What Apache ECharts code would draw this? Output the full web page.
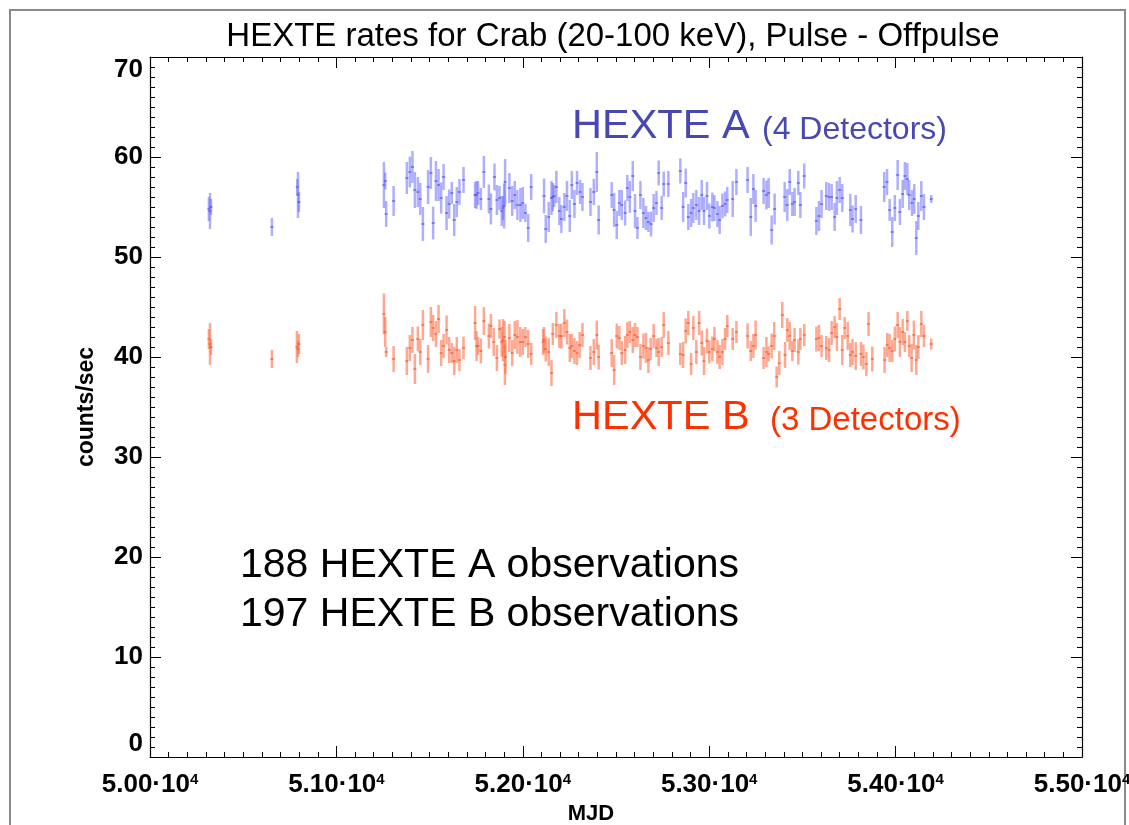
<!DOCTYPE html>
<html>
<head>
<meta charset="utf-8">
<title>HEXTE rates for Crab</title>
<script src="https://cdn.jsdelivr.net/npm/echarts@6/dist/echarts.min.js"></script>
<style>
    html, body { margin: 0; padding: 0; background: #fff; }
    #main { width: 1129px; height: 825px; }
</style>
</head>
<body>
<div id="main"></div>
<script>
// HEXTE A (4 detectors): MJD, rate, 1-sigma error
var aMjd = [50316, 50322, 50327, 50654, 50790, 50794, 50799,
    51255, 51262, 51267, 51307, 51378, 51394, 51408, 51421, 51437, 51450, 51464, 51492, 51507, 51519, 51534, 51548,
    51562, 51575, 51591, 51605, 51619, 51632, 51646, 51660, 51682, 51744, 51752, 51760, 51775, 51791, 51818, 51829,
    51848, 51861, 51875, 51887, 51894, 51900, 51905, 51928, 51943, 51957, 51971, 51987, 52000, 52014, 52029, 52045,
    52114, 52123, 52139, 52154, 52161, 52168, 52180, 52196, 52207, 52223, 52237, 52252, 52263, 52277, 52291, 52307,
    52320, 52363, 52381, 52397, 52407, 52477, 52490, 52504, 52518, 52531, 52549, 52561, 52574, 52590, 52602, 52615,
    52631, 52647, 52661, 52674, 52688, 52702, 52717, 52729,
    52745, 52756, 52781, 52845, 52860, 52874, 52888, 52903, 52915, 52931, 52946, 52960, 52972, 52988, 53001, 53017,
    53028, 53044, 53056, 53071, 53085, 53097, 53126, 53146, 53206, 53223, 53237, 53249, 53292, 53307, 53319, 53335,
    53351, 53405, 53419, 53432, 53446, 53458, 53478, 53489, 53510, 53575, 53589, 53603, 53628, 53643, 53657, 53673,
    53685, 53700, 53714, 53757, 53769, 53786, 53814, 53939, 53954, 53968, 53982, 53996, 54011, 54023, 54038, 54050,
    54063, 54073, 54088, 54100, 54111, 54122, 54138, 54152, 54191];
var aRate = [54.8, 54.6, 55.0, 53.0, 57.0, 56.2, 55.5,
    57.2, 57.6, 54.3, 55.6, 57.9, 58.5, 59.0, 56.7, 56.5, 55.8, 53.3, 57.0, 58.4, 53.4, 57.6, 57.2,
    55.9, 58.0, 54.4, 55.3, 56.4, 53.7, 55.5, 56.5, 57.7, 56.2, 56.2, 56.4, 55.8, 58.5, 55.8, 54.8,
    58.0, 55.7, 55.9, 54.6, 54.9, 55.1, 57.5, 56.9, 55.6, 56.2, 55.2, 55.2, 55.4, 54.4, 52.9, 57.0,
    56.1, 52.8, 54.0, 55.9, 56.0, 56.1, 57.0, 54.6, 53.8, 55.0, 56.1, 54.1, 57.2, 55.3, 57.4, 56.5,
    56.0, 55.5, 56.5, 58.5, 53.7, 56.2, 54.7, 53.2, 55.4, 55.2, 54.4, 56.9, 56.0, 58.1, 54.6, 52.9,
    56.2, 54.4, 53.9, 53.5, 53.3, 54.9, 55.4, 58.4,
    54.9, 57.3, 57.3, 58.6, 55.0, 57.4, 54.0, 54.4, 54.9, 55.2, 54.6, 56.2, 54.6, 56.1, 54.1, 55.0,
    54.9, 54.3, 53.7, 55.1, 55.3, 55.7, 55.8, 57.5, 57.7, 54.0, 56.8, 55.1, 56.6, 56.2, 56.4, 52.7,
    54.8, 56.0, 55.2, 57.5, 55.3, 55.5, 57.4, 55.2, 58.1, 53.6, 54.1, 55.3, 56.1, 56.0, 56.0, 54.0,
    55.9, 56.7, 55.9, 54.7, 53.8, 54.8, 53.7, 57.0, 57.5, 54.7, 52.5, 54.9, 58.2, 54.5, 56.3, 58.1,
    57.8, 56.2, 55.4, 55.8, 51.9, 54.1, 56.1, 55.0, 55.8];
var aErr = [1.2, 1.8, 0.8, 0.9, 0.8, 2.3, 1.0,
    2.3, 0.85, 1.3, 1.5, 1.6, 1.55, 1.6, 1.8, 1.5, 1.6, 1.7, 1.7, 1.6, 1.65, 2.0, 1.6,
    1.55, 1.3, 1.7, 1.45, 1.1, 1.6, 1.5, 1.3, 1.3, 1.3, 1.4, 1.2, 1.1, 1.6, 1.45, 1.55,
    1.35, 1.5, 1.2, 1.5, 1.2, 2.25, 2.3, 1.5, 1.5, 1.4, 1.5, 1.7, 1.6, 0.9, 1.4, 1.3,
    1.75, 1.4, 1.5, 1.7, 1.4, 1.1, 1.6, 1.4, 1.4, 1.4, 1.5, 1.6, 1.4, 1.4, 1.2, 1.2,
    1.4, 1.4, 1.3, 2.0, 1.45, 1.3, 1.7, 1.4, 1.3, 1.5, 1.25, 1.3, 1.6, 1.5, 1.7, 1.1,
    1.4, 1.5, 1.2, 1.0, 1.25, 1.4, 1.2, 1.25,
    1.2, 1.25, 1.3, 1.25, 1.5, 1.45, 1.3, 1.4, 1.5, 1.5, 1.4, 1.5, 1.4, 1.4, 1.25, 1.45,
    1.3, 1.3, 1.4, 1.25, 1.25, 1.3, 1.8, 1.3, 1.3, 1.9, 1.5, 1.6, 1.3, 1.45, 1.5, 1.45,
    1.55, 1.5, 1.6, 1.3, 1.2, 1.4, 1.2, 1.3, 1.25, 1.4, 1.5, 1.4, 1.4, 1.4, 1.3, 1.4,
    1.7, 1.3, 1.4, 1.6, 1.35, 1.4, 1.4, 1.5, 1.3, 1.1, 1.5, 1.3, 1.5, 1.3, 1.4, 1.4,
    1.6, 1.5, 1.3, 1.5, 1.7, 1.4, 1.5, 1.3, 0.4];

// HEXTE B (3 detectors)
var bMjd = [50316, 50322, 50327, 50654, 50788, 50794, 50799,
    51255, 51262, 51267, 51307, 51378, 51394, 51408, 51421, 51437, 51450, 51464, 51492, 51507, 51519, 51534, 51548,
    51562, 51575, 51591, 51605, 51619, 51632, 51646, 51660, 51682, 51744, 51752, 51760, 51775, 51791, 51818, 51829,
    51844, 51861, 51875, 51887, 51894, 51902, 51904, 51907, 51928, 51943, 51957, 51971, 51986, 52000, 52014, 52029,
    52045, 52109, 52114, 52123, 52139, 52154, 52161, 52180, 52196, 52207, 52223, 52237, 52252, 52263, 52277, 52291,
    52305, 52320, 52363, 52381, 52397, 52407, 52477, 52490, 52504, 52518, 52531, 52549, 52561, 52574, 52590, 52602,
    52615, 52631, 52647, 52661, 52674, 52686, 52702, 52717, 52729,
    52745, 52756, 52781, 52845, 52860, 52874, 52888, 52903, 52915, 52931, 52946, 52960, 52972, 52988, 53001, 53017,
    53028, 53044, 53056, 53071, 53085, 53097, 53126, 53146, 53206, 53223, 53237, 53249, 53292, 53307, 53319, 53335,
    53349, 53362, 53376, 53392, 53407, 53419, 53432, 53446, 53458, 53478, 53489, 53510, 53575, 53589, 53603, 53628,
    53643, 53657, 53673, 53685, 53700, 53714, 53727, 53743, 53757, 53769, 53786, 53814, 53827, 53843, 53855, 53875,
    53941, 53955, 53968, 53982, 53996, 54011, 54023, 54038, 54050, 54063, 54073, 54086, 54098, 54111, 54122, 54138,
    54152, 54191];
var bRate = [41.8, 41.3, 41.0, 39.8, 41.0, 40.8, 41.3,
    44.3, 42.5, 40.5, 39.8, 39.6, 40.9, 41.7, 38.8, 41.8, 40.5, 43.2, 39.8, 43.5, 42.9, 42.3, 43.8,
    40.4, 41.1, 42.7, 40.7, 40.4, 39.6, 40.7, 39.7, 40.9, 43.4, 41.1, 41.1, 40.6, 43.6, 42.1, 43.1,
    41.5, 39.9, 42.8, 41.5, 41.7, 42.0, 39.2, 40.0, 41.9, 40.4, 42.2, 42.0, 41.5, 41.5, 42.0, 41.3,
    40.3, 41.5, 41.7, 40.8, 40.5, 38.4, 42.3, 43.2, 42.1, 42.1, 43.4, 42.5, 40.9, 41.1, 40.6, 40.4,
    41.2, 42.2, 39.9, 40.5, 42.2, 40.0, 40.4, 38.7, 42.1, 41.9, 40.4, 40.7, 42.2, 42.5, 41.7, 42.2,
    42.0, 40.0, 41.1, 40.9, 39.7, 40.8, 42.1, 40.9, 40.5,
    41.0, 43.2, 41.4, 40.3, 40.2, 42.6, 43.4, 39.3, 42.9, 40.5, 43.4, 41.4, 39.6, 41.6, 40.5, 40.8,
    41.8, 40.5, 40.0, 40.5, 41.8, 43.1, 41.8, 42.5, 42.1, 40.6, 41.1, 42.2, 39.9, 40.5, 40.3, 41.1,
    42.1, 38.0, 39.4, 44.2, 40.2, 42.7, 42.1, 40.6, 41.7, 40.5, 41.8, 42.2, 41.8, 41.9, 41.1, 40.9,
    40.7, 42.4, 43.0, 42.0, 44.8, 40.7, 42.9, 42.1, 40.2, 40.5, 40.1, 40.3, 40.0, 39.3, 43.3, 39.8,
    39.7, 41.2, 40.9, 40.6, 41.8, 43.2, 41.5, 42.5, 41.5, 43.6, 41.1, 39.9, 42.2, 39.7, 41.0, 43.3,
    42.1, 41.3];
var bErr = [1.0, 2.1, 0.8, 0.9, 1.6, 0.8, 1.0,
    2.05, 1.5, 0.5, 1.3, 1.4, 1.3, 1.3, 1.5, 1.25, 1.3, 1.5, 1.4, 1.5, 1.3, 1.3, 1.4,
    1.3, 1.2, 1.45, 1.3, 1.0, 1.4, 1.3, 1.1, 1.15, 1.7, 1.5, 0.9, 1.25, 1.4, 1.25, 1.2,
    1.4, 1.3, 0.95, 1.5, 2.1, 1.6, 2.0, 1.7, 1.4, 1.3, 1.4, 1.7, 1.5, 1.3, 1.0, 1.4,
    1.1, 1.3, 1.3, 1.25, 1.4, 1.3, 1.1, 1.3, 1.2, 1.25, 1.4, 1.25, 1.4, 1.2, 1.3, 1.2,
    1.3, 1.2, 1.2, 1.3, 1.45, 1.25, 1.4, 1.5, 1.25, 1.2, 1.2, 1.4, 1.3, 1.1, 1.3, 1.2,
    1.0, 1.3, 1.25, 1.5, 1.3, 1.1, 1.2, 0.9, 1.4,
    1.0, 1.3, 1.2, 1.1, 1.3, 1.25, 1.2, 1.1, 1.2, 1.2, 1.2, 1.25, 1.4, 1.25, 1.15, 1.25,
    1.2, 1.2, 1.2, 1.3, 1.1, 1.1, 1.1, 1.1, 1.25, 1.0, 1.2, 1.45, 1.1, 1.5, 0.75, 1.25,
    1.4, 1.05, 1.2, 1.3, 1.3, 1.2, 1.4, 1.0, 1.2, 1.25, 1.1, 1.1, 1.25, 1.3, 1.1, 1.2,
    1.2, 1.2, 1.1, 1.4, 1.1, 1.5, 1.1, 1.4, 1.2, 1.3, 1.4, 1.2, 1.25, 1.2, 1.2, 1.25,
    1.3, 1.2, 1.4, 1.1, 1.25, 1.3, 1.5, 1.3, 1.0, 1.0, 1.1, 1.4, 1.45, 1.5, 1.2, 1.3,
    1.1, 0.55];

// axis ticks
var xTicks = [50000, 51000, 52000, 53000, 54000, 55000];
var yTicks = [0, 10, 20, 30, 40, 50, 60, 70];

var FONT = '"Liberation Sans", Arial, Helvetica, sans-serif';

function toRows(mjd, rate, err) {
    return mjd.map(function (m, i) {
        return [m, rate[i], err[i]];
    });
}

// vertical error bar with a small mark at the measured value
function errBar(barColor, midColor) {
    return function (params, api) {
        var x = api.value(0), v = api.value(1), e = api.value(2);
        var top = api.coord([x, v + e]);
        var bot = api.coord([x, v - e]);
        var mid = api.coord([x, v]);
        return {
            type: 'group',
            children: [{
                type: 'line',
                shape: {x1: top[0], y1: top[1], x2: bot[0], y2: bot[1]},
                style: {stroke: barColor, lineWidth: 2.5}
            }, {
                type: 'line',
                shape: {x1: mid[0] - 1.5, y1: mid[1], x2: mid[0] + 1.5, y2: mid[1]},
                style: {stroke: midColor, lineWidth: 1}
            }]
        };
    };
}

function makeXAxis(pos, showLabel) {
    return {
        type: 'value',
        position: pos,
        min: xTicks[0],
        max: xTicks[xTicks.length - 1],
        interval: xTicks[1] - xTicks[0],
        axisLine: {show: true, onZero: false, lineStyle: {color: '#000', width: 1.2}},
        axisTick: {inside: true, length: 11, lineStyle: {color: '#000', width: 1}},
        minorTick: {show: true, splitNumber: 10, length: 5, lineStyle: {color: '#000', width: 1}},
        splitLine: {show: false},
        axisLabel: {
            show: showLabel,
            margin: 15,
            formatter: function (v) {
                return '{m|' + (v / 10000).toFixed(2) + '·10}{e|4}';
            },
            rich: {
                m: {fontFamily: FONT, fontSize: 26, fontWeight: 'bold', color: '#000'},
                e: {fontFamily: FONT, fontSize: 15, fontWeight: 'bold', color: '#000', verticalAlign: 'top'}
            }
        },
        name: showLabel ? 'MJD' : '',
        nameLocation: 'middle',
        nameGap: 46,
        nameTextStyle: {fontFamily: FONT, fontSize: 22, fontWeight: 'bold', color: '#000', padding: [0, 50, 0, 0]}
    };
}

function makeYAxis(pos, showLabel) {
    return {
        type: 'value',
        position: pos,
        min: yTicks[0],
        max: yTicks[yTicks.length - 1],
        interval: yTicks[1] - yTicks[0],
        axisLine: {show: true, onZero: false, lineStyle: {color: '#000', width: 1.2}},
        axisTick: {inside: true, length: 11, lineStyle: {color: '#000', width: 1}},
        minorTick: {show: true, splitNumber: 10, length: 5, lineStyle: {color: '#000', width: 1}},
        splitLine: {show: false},
        axisLabel: {
            show: showLabel,
            margin: 7,
            fontFamily: FONT,
            fontSize: 26,
            fontWeight: 'bold',
            color: '#000',
            verticalAlignMinLabel: 'bottom',
            verticalAlignMaxLabel: 'top'
        },
        name: showLabel ? 'counts/sec' : '',
        nameLocation: 'middle',
        nameGap: 52,
        nameRotate: 90,
        nameTextStyle: {fontFamily: FONT, fontSize: 23, fontWeight: 'bold', color: '#000'}
    };
}

var myChart = echarts.init(document.getElementById('main'));

myChart.setOption({
    backgroundColor: '#fff',
    animation: false,
    title: {
        text: 'HEXTE rates for Crab (20-100 keV), Pulse - Offpulse',
        left: 608,
        textAlign: 'center',
        top: 15,
        textStyle: {fontFamily: FONT, fontSize: 33, fontWeight: 'normal', color: '#000'}
    },
    grid: {left: 150, right: 47, top: 57, bottom: 68, outerBoundsMode: 'none'},
    xAxis: [makeXAxis('bottom', true), makeXAxis('top', false)],
    yAxis: [makeYAxis('left', true), makeYAxis('right', false)],
    series: [{
        name: 'HEXTE A',
        type: 'custom',
        xAxisIndex: 0,
        yAxisIndex: 0,
        renderItem: errBar('rgba(110,110,255,0.55)', 'rgba(50,50,230,0.9)'),
        data: toRows(aMjd, aRate, aErr)
    }, {
        name: 'HEXTE B',
        type: 'custom',
        xAxisIndex: 0,
        yAxisIndex: 0,
        renderItem: errBar('rgba(255,110,70,0.6)', 'rgba(240,60,20,0.9)'),
        data: toRows(bMjd, bRate, bErr)
    }],
    graphic: [{
        type: 'rect',
        shape: {x: 10, y: 10, width: 1115, height: 830},
        style: {fill: 'none', stroke: '#8a8a8a', lineWidth: 2},
        silent: true
    }, {
        type: 'text', x: 572, y: 127,
        style: {text: 'HEXTE A', fill: '#4848b4', fontFamily: FONT, fontSize: 41.5, verticalAlign: 'middle'}
    }, {
        type: 'text', x: 762, y: 130,
        style: {text: '(4 Detectors)', fill: '#4848b4', fontFamily: FONT, fontSize: 32, verticalAlign: 'middle'}
    }, {
        type: 'text', x: 572, y: 418,
        style: {text: 'HEXTE B', fill: '#ff3000', fontFamily: FONT, fontSize: 41.5, verticalAlign: 'middle'}
    }, {
        type: 'text', x: 770, y: 421,
        style: {text: '(3 Detectors)', fill: '#ff3000', fontFamily: FONT, fontSize: 33, verticalAlign: 'middle'}
    }, {
        type: 'text', x: 240, y: 566,
        style: {text: '188 HEXTE A observations', fill: '#000', fontFamily: FONT, fontSize: 41, verticalAlign: 'middle'}
    }, {
        type: 'text', x: 240, y: 615,
        style: {text: '197 HEXTE B observations', fill: '#000', fontFamily: FONT, fontSize: 41, verticalAlign: 'middle'}
    }]
});
</script>
</body>
</html>
